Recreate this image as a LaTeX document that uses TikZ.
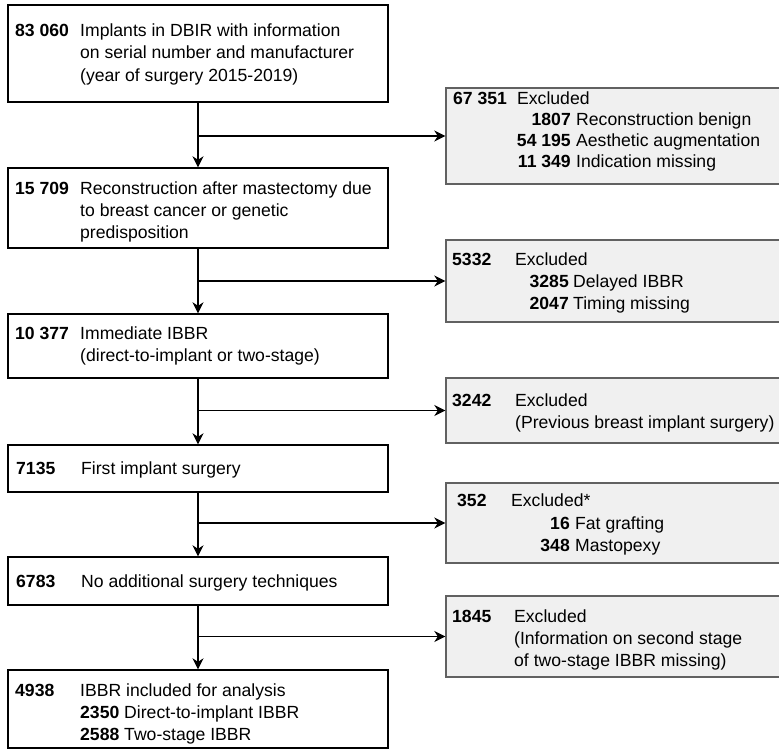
\documentclass[tikz,border=0pt]{standalone}
\usepackage{fontspec}
\setmainfont{Liberation Sans}
\usetikzlibrary{arrows.meta}
\begin{document}
\begin{tikzpicture}[x=1pt,y=-1pt,
 lbox/.style={draw=black, line width=1.4pt, fill=white, inner sep=0pt, minimum width=380pt},
 rbox/.style={draw=black!62, line width=1.4pt, fill=black!6, inner sep=0pt, minimum width=335pt},
 txt/.style={inner sep=0pt, anchor=base west, font=\fontsize{17.6}{20}\selectfont},
 ntxt/.style={txt, font=\fontsize{17.6}{20}\selectfont\bfseries},
 rtxt/.style={ntxt, anchor=base east},
 arr/.style={line width=1.3pt, -{Stealth[length=11pt,width=11pt,inset=3.5pt]}}]
\useasboundingbox (0,0) rectangle (779,750);
% main boxes
\node[lbox, minimum height=97pt] (b1) at (198,53.5) {};
\node[lbox, minimum height=80pt] (b2) at (198,208) {};
\node[lbox, minimum height=64pt] (b3) at (198,346) {};
\node[lbox, minimum height=47pt] (b4) at (198,468.5) {};
\node[lbox, minimum height=48pt] (b5) at (198,581) {};
\node[lbox, minimum height=78pt] (b6) at (198,709) {};
% exclusion boxes
\node[rbox, minimum height=96pt] (r1) at (613.5,136) {};
\node[rbox, minimum height=82pt] (r2) at (613.5,281) {};
\node[rbox, minimum height=65pt] (r3) at (613.5,410.5) {};
\node[rbox, minimum height=80pt] (r4) at (613.5,523) {};
\node[rbox, minimum height=81pt] (r5) at (613.5,636.5) {};
% connectors
\draw[arr] (b1.south) -- (b2.north);
\draw[arr] (b1.south |- r1.west) -- (r1.west);
\draw[arr] (b2.south) -- (b3.north);
\draw[arr] (b2.south |- r2.west) -- (r2.west);
\draw[arr] (b3.south) -- (b4.north);
\draw[arr] (b3.south |- r3.west) -- (r3.west);
\draw[arr] (b4.south) -- (b5.north);
\draw[arr] (b4.south |- r4.west) -- (r4.west);
\draw[arr] (b5.south) -- (b6.north);
\draw[arr] (b5.south |- r5.west) -- (r5.west);
% box 1
\node[ntxt] (n1) at (15,36) {83 060};
\node[txt] (t1a) at (80,36) {Implants in DBIR with information};
\node[txt] (t1b) at (80,58.5) {on serial number and manufacturer};
\node[txt] (t1c) at (80,81) {(year of surgery 2015-2019)};
% box 2
\node[ntxt] (n2) at (15,194) {15 709};
\node[txt] (t2a) at (80,194) {Reconstruction after mastectomy due};
\node[txt] (t2b) at (80,216) {to breast cancer or genetic};
\node[txt] (t2c) at (80,238) {predisposition};
% box 3
\node[ntxt] (n3) at (15,339) {10 377};
\node[txt] (t3a) at (80,339) {Immediate IBBR};
\node[txt] (t3b) at (80,361.5) {(direct-to-implant or two-stage)};
% box 4
\node[ntxt] (n4) at (16,474) {7135};
\node[txt] (t4a) at (81,474) {First implant surgery};
% box 5
\node[ntxt] (n5) at (16,587) {6783};
\node[txt] (t5a) at (81,587) {No additional surgery techniques};
% box 6
\node[ntxt] (n6) at (15,696) {4938};
\node[txt] (t6a) at (80,696) {IBBR included for analysis};
\node[txt] (t6b) at (80,718) {\textbf{2350} Direct-to-implant IBBR};
\node[txt] (t6c) at (80,740) {\textbf{2588} Two-stage IBBR};
% r1
\node[ntxt] (m1) at (453,104) {67 351};
\node[txt] (e1) at (517,104) {Excluded};
\node[rtxt] (m1a) at (571,125.5) {1807};
\node[txt] (e1a) at (576,125.5) {Reconstruction benign};
\node[rtxt] (m1b) at (571,146.5) {54 195};
\node[txt] (e1b) at (576,146.5) {Aesthetic augmentation};
\node[rtxt] (m1c) at (571,167.5) {11 349};
\node[txt] (e1c) at (576,167.5) {Indication missing};
% r2
\node[ntxt] (m2) at (452,265) {5332};
\node[txt] (e2) at (515,265) {Excluded};
\node[rtxt] (m2a) at (569,287) {3285};
\node[txt] (e2a) at (573,287) {Delayed IBBR};
\node[rtxt] (m2b) at (569,309) {2047};
\node[txt] (e2b) at (573,309) {Timing missing};
% r3
\node[ntxt] (m3) at (452,406) {3242};
\node[txt] (e3) at (515,406) {Excluded};
\node[txt] (e3a) at (515,428) {(Previous breast implant surgery)};
% r4
\node[ntxt] (m4) at (457,506) {352};
\node[txt] (e4) at (511,506) {Excluded*};
\node[rtxt] (m4a) at (570,529) {16};
\node[txt] (e4a) at (575,529) {Fat grafting};
\node[rtxt] (m4b) at (570,551) {348};
\node[txt] (e4b) at (575,551) {Mastopexy};
% r5
\node[ntxt] (m5) at (452,622) {1845};
\node[txt] (e5) at (514,622) {Excluded};
\node[txt] (e5a) at (514,644) {(Information on second stage};
\node[txt] (e5b) at (514,666) {of two-stage IBBR missing)};
\end{tikzpicture}
\end{document}
